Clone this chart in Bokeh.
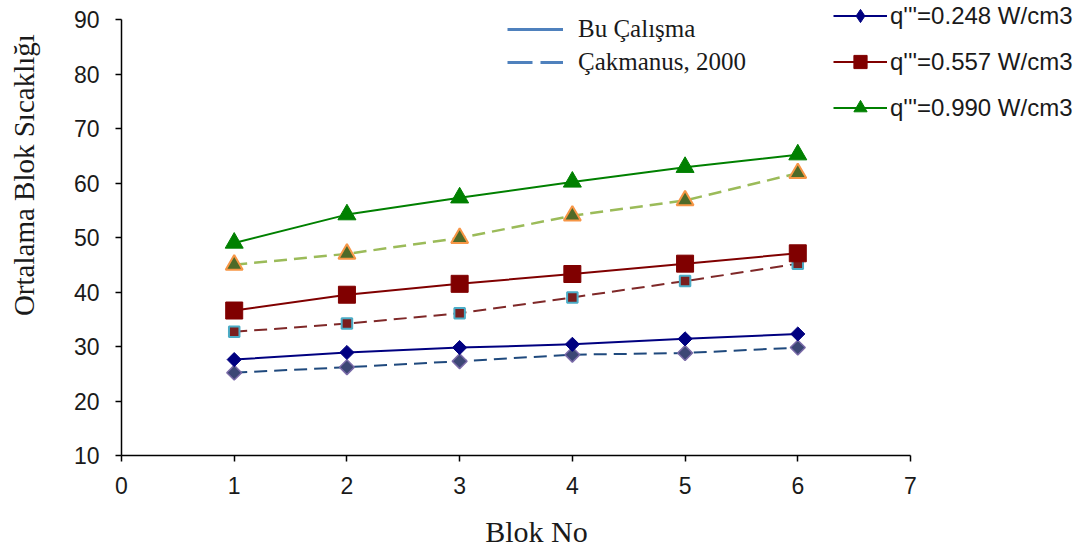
import math
import numpy as np
from bokeh.plotting import figure
from bokeh.models import Range1d, FixedTicker, Legend, LegendItem, Label, ColumnDataSource
from bokeh.embed import file_html
from bokeh.resources import INLINE

# ---- data ----
blok = [1, 2, 3, 4, 5, 6]
bu_0248 = [27.6, 28.9, 29.8, 30.4, 31.4, 32.3]
bu_0557 = [36.6, 39.5, 41.5, 43.3, 45.2, 47.1]
bu_0990 = [49.0, 54.2, 57.3, 60.2, 62.9, 65.2]
ck_0248 = [25.2, 26.2, 27.3, 28.5, 28.8, 29.8]
ck_0557 = [32.7, 34.2, 36.1, 39.0, 42.0, 45.2]
ck_0990 = [45.0, 47.0, 49.9, 54.0, 56.8, 61.8]
x_ticks = [0, 1, 2, 3, 4, 5, 6, 7]
y_ticks = [10, 20, 30, 40, 50, 60, 70, 80, 90]
legend_study = ["Bu Çalışma", "Çakmanus, 2000"]
legend_q = ["q'''=0.248 W/cm3", "q'''=0.557 W/cm3", "q'''=0.990 W/cm3"]
x_title = "Blok No"
y_title = "Ortalama  Blok Sıcaklığı"

W, H = 1090, 548
px_x = (910 - 121) / 7.0
px_y = (455 - 19) / 80.0
x0 = -121 / px_x
x1 = (W - 121) / px_x
y1 = 90 + 19 / px_y
y0 = 90 - (H - 19) / px_y

p = figure(width=W, height=H, output_backend="svg", toolbar_location=None,
           x_range=Range1d(x0, x1), y_range=Range1d(y0, y1),
           min_border=0, min_border_left=0, min_border_right=0,
           min_border_top=0, min_border_bottom=0)
p.outline_line_color = None
p.xgrid.grid_line_color = None
p.ygrid.grid_line_color = None

for ax, ticks in ((p.xaxis, x_ticks), (p.yaxis, y_ticks)):
    ax.ticker = FixedTicker(ticks=ticks)
    ax.minor_tick_line_color = None
    ax.major_tick_in = 0
    ax.major_tick_out = 6
    ax.axis_line_color = "black"
    ax.axis_line_width = 1.5
    ax.major_tick_line_color = "black"
    ax.major_tick_line_width = 1.5
    ax.major_label_text_font = "Liberation Sans"
    ax.major_label_text_font_size = "23px"
    ax.major_label_text_color = "#1a1a1a"
p.yaxis.major_label_standoff = 16
p.xaxis.major_label_standoff = 15
p.xaxis.bounds = (0, 7)
p.yaxis.bounds = (10, 90)
p.xaxis.fixed_location = 10
p.yaxis.fixed_location = 0

src = ColumnDataSource(dict(x=blok, b1=bu_0248, b2=bu_0557, b3=bu_0990,
                            c1=ck_0248, c2=ck_0557, c3=ck_0990))

dash = "13 7"
# Cakmanus (dashed)
p.line("x", "c1", source=src, line_color="#1F497D", line_width=2, line_dash=dash)
p.scatter("x", "c1", source=src, marker="square", angle=math.pi / 4, size=10.5,
          fill_color="#3C4775", line_color="#7A6AA8", line_width=1.5)
p.line("x", "c2", source=src, line_color="#7F2828", line_width=2, line_dash=dash)
p.scatter("x", "c2", source=src, marker="square", size=10.5,
          fill_color="#7A1E1E", line_color="#4BACC6", line_width=2)
p.line("x", "c3", source=src, line_color="#9BBB59", line_width=2.5, line_dash=dash)
p.scatter("x", "c3", source=src, marker="triangle", size=17,
          fill_color="#4F6A28", line_color="#F79646", line_width=2)

# Bu calisma (solid)
p.line("x", "b1", source=src, line_color="#000080", line_width=2)
p.scatter("x", "b1", source=src, marker="square", angle=math.pi / 4, size=10,
          fill_color="#000080", line_color="#000080")
p.line("x", "b2", source=src, line_color="#800000", line_width=2)
p.scatter("x", "b2", source=src, marker="square", size=17,
          fill_color="#800000", line_color="#800000")
p.line("x", "b3", source=src, line_color="#008000", line_width=2)
p.scatter("x", "b3", source=src, marker="triangle", size=18,
          fill_color="#008000", line_color="#008000")

# legend-only renderers (no visible data)
nan = np.array([np.nan])
ls = p.line(nan, nan, line_color="#4F81BD", line_width=3)
ld = p.line(nan, nan, line_color="#4F81BD", line_width=3, line_dash="25 8")
leg1 = Legend(items=[LegendItem(label=legend_study[0], renderers=[ls]),
                     LegendItem(label=legend_study[1], renderers=[ld])],
              location=(507, H - 77), orientation="vertical",
              glyph_width=56, glyph_height=30, label_height=30, spacing=3,
              label_standoff=15, padding=0, margin=0,
              border_line_color=None, background_fill_alpha=0,
              label_text_font="Liberation Serif", label_text_font_size="25px",
              label_text_color="#1a1a1a")
p.add_layout(leg1, "center")

cols = [("#000080", "diamond"), ("#800000", "square"), ("#008000", "triangle")]
items = []
for (c, m), lab in zip(cols, legend_q):
    r1 = p.line(nan, nan, line_color=c, line_width=2)
    r2 = p.scatter(nan, nan, marker=m, fill_color=c, line_color=c)
    items.append(LegendItem(label=lab, renderers=[r1, r2]))
leg2 = Legend(items=items, location=(833, H - 124), orientation="vertical",
              glyph_width=54, glyph_height=33, label_height=33, spacing=13,
              label_standoff=3, padding=0, margin=0,
              border_line_color=None, background_fill_alpha=0,
              label_text_font="Liberation Sans", label_text_font_size="24px",
              label_text_color="#1a1a1a")
p.add_layout(leg2, "center")

p.add_layout(Label(x=(23 - 121) / px_x, y=90 - (171 - 19) / px_y, text=y_title,
                   angle=math.pi / 2, text_align="center", text_baseline="middle",
                   text_font="Liberation Serif", text_font_size="29px",
                   text_color="#1a1a1a"))
p.add_layout(Label(x=(536 - 121) / px_x, y=90 - (531 - 19) / px_y, text=x_title,
                   text_align="center", text_baseline="middle",
                   text_font="Liberation Serif", text_font_size="30px",
                   text_color="#1a1a1a"))

open("out.html", "w").write(file_html(p, INLINE))
